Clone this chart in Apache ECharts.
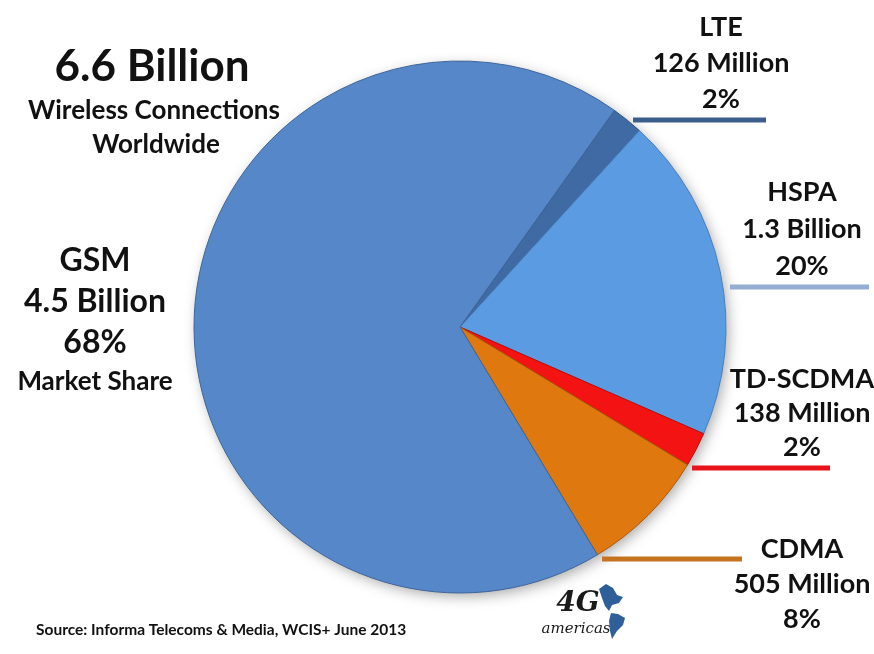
<!DOCTYPE html>
<html>
<head>
<meta charset="utf-8">
<style>
  html, body { margin: 0; padding: 0; background: #ffffff; }
  #chart { width: 874px; height: 654px; }
</style>
<script src="https://cdn.jsdelivr.net/npm/echarts@6/dist/echarts.min.js"></script>
</head>
<body>
<div id="chart"></div>
<script>
// Wireless connections by technology (millions), 2013
const technologies = ['LTE', 'HSPA', 'TD-SCDMA', 'CDMA', 'GSM'];
const connections = [126, 1300, 138, 505, 4500];
const connectionText = ['126 Million', '1.3 Billion', '138 Million', '505 Million', '4.5 Billion'];
const shareText = ['2%', '20%', '2%', '8%', '68%'];
const totalText = '6.6 Billion';
const subtitleLines = ['Wireless Connections', 'Worldwide'];
const gsmNote = 'Market Share';
const sourceText = 'Source: Informa Telecoms & Media, WCIS+ June 2013';

const sliceColors = ['#3f6aa3', '#5b9be2', '#f41313', '#df790f', '#5687c9'];
const sliceBorders = ['#2f527f', '#4a7fba', '#b80d0d', '#a95a0a', '#3f6699'];
const leaderColors = ['#3c5e8d', '#93add3', '#e8141c', '#c6731f'];

const FONT = 'Lato, "Open Sans", sans-serif';

const chart = echarts.init(document.getElementById('chart'));

// label block placement per slice: [centre x, top y]
const labelSpots = [
  [721, 9],
  [802, 174],
  [802, 362],
  [802, 532],
  [95, 240]
];

const pieData = technologies.map((name, i) => ({
  name: name,
  value: connections[i],
  itemStyle: {
    color: sliceColors[i],
    borderColor: sliceBorders[i],
    borderWidth: 1
  }
}));

function labelFormatter(p) {
  const i = p.dataIndex;
  const lines = [p.name, connectionText[i], shareText[i]];
  if (p.name === 'GSM') {
    return lines.map(s => '{big|' + s + '}').join('\n');
  }
  const key = i === 0 ? 'lte' : (i === 1 ? 'hspa' : (i === 2 ? 'td' : 'cdma'));
  return lines.map(s => '{' + key + '|' + s + '}').join('\n');
}

// horizontal leader lines beside the right-hand slices
const leaders = [
  [633, 766, 120],
  [730, 869, 287],
  [692, 830, 468],
  [602, 742, 559]
];

const graphics = [
  {
    type: 'circle',
    shape: { cx: 460, cy: 327, r: 265 },
    style: { fill: '#5687c9', shadowBlur: 14, shadowColor: 'rgba(0,0,0,0.35)', shadowOffsetX: 3, shadowOffsetY: 4 },
    z: 0, silent: true
  },
  {
    type: 'text', x: 152, y: 67, z: 10,
    style: { text: totalText, font: 'bold 44px ' + FONT, fill: '#111', align: 'center', verticalAlign: 'middle' }
  },
  {
    type: 'text', x: 154, y: 111, z: 10,
    style: { text: subtitleLines[0], font: 'bold 26px ' + FONT, fill: '#111', align: 'center', verticalAlign: 'middle' }
  },
  {
    type: 'text', x: 156, y: 145, z: 10,
    style: { text: subtitleLines[1], font: 'bold 26px ' + FONT, fill: '#111', align: 'center', verticalAlign: 'middle' }
  },
  {
    type: 'text', x: 95, y: 382, z: 10,
    style: { text: gsmNote, font: 'bold 26px ' + FONT, fill: '#111', align: 'center', verticalAlign: 'middle' }
  },
  {
    type: 'text', x: 36, y: 630, z: 10,
    style: { text: sourceText, font: 'bold 15.5px ' + FONT, fill: '#111', align: 'left', verticalAlign: 'middle' }
  },
  // 4G Americas mark
  {
    type: 'text', x: 578, y: 604, z: 10,
    style: { text: '4G', font: 'italic bold 28px "DejaVu Serif", serif', fill: '#1a1a1a', align: 'center', verticalAlign: 'middle' }
  },
  {
    type: 'text', x: 576, y: 629, z: 10,
    style: { text: 'americas', font: 'italic 15px "DejaVu Serif", serif', fill: '#1a1a1a', align: 'center', verticalAlign: 'middle' }
  },
  {
    type: 'polygon', z: 10,
    shape: { points: [[599, 589], [606, 584], [613, 588], [617, 595], [623, 597], [619, 603], [612, 605], [609, 611], [605, 606], [602, 598]] },
    style: { fill: '#2f5f98' }
  },
  {
    type: 'polygon', z: 10,
    shape: { points: [[611, 613], [618, 614], [625, 618], [623, 625], [617, 631], [612, 639], [610, 631], [609, 621]] },
    style: { fill: '#2f5f98' }
  }
];

leaders.forEach((l, i) => {
  graphics.push({
    type: 'line', z: 1,
    shape: { x1: l[0], y1: l[2], x2: l[1], y2: l[2] },
    style: { stroke: leaderColors[i], lineWidth: 5 }
  });
});

function richLine(size, lh) {
  return { fontSize: size, fontWeight: 700, fontFamily: FONT, color: '#111', lineHeight: lh, align: 'center' };
}

chart.setOption({
  backgroundColor: '#ffffff',
  animation: false,
  graphic: graphics,
  series: [{
    type: 'pie',
    center: [460, 327],
    radius: 266,
    startAngle: 54.5,
    clockwise: true,
    avoidLabelOverlap: false,
    z: 2,
    emphasis: { disabled: true },
    data: pieData,
    labelLine: { show: false },
    label: {
      show: true,
      position: 'outside',
      formatter: labelFormatter,
      color: '#111',
      fontFamily: FONT,
      fontWeight: 700,
      fontSize: 27,
      rich: {
        lte: richLine(27, 36),
        hspa: richLine(27, 37),
        td: richLine(27, 34),
        cdma: richLine(27, 35),
        big: richLine(32, 41)
      }
    },
    labelLayout: function (params) {
      const s = labelSpots[params.dataIndex];
      return { x: s[0], y: s[1], align: 'center', verticalAlign: 'top', hideOverlap: false };
    }
  }]
});
</script>
</body>
</html>
